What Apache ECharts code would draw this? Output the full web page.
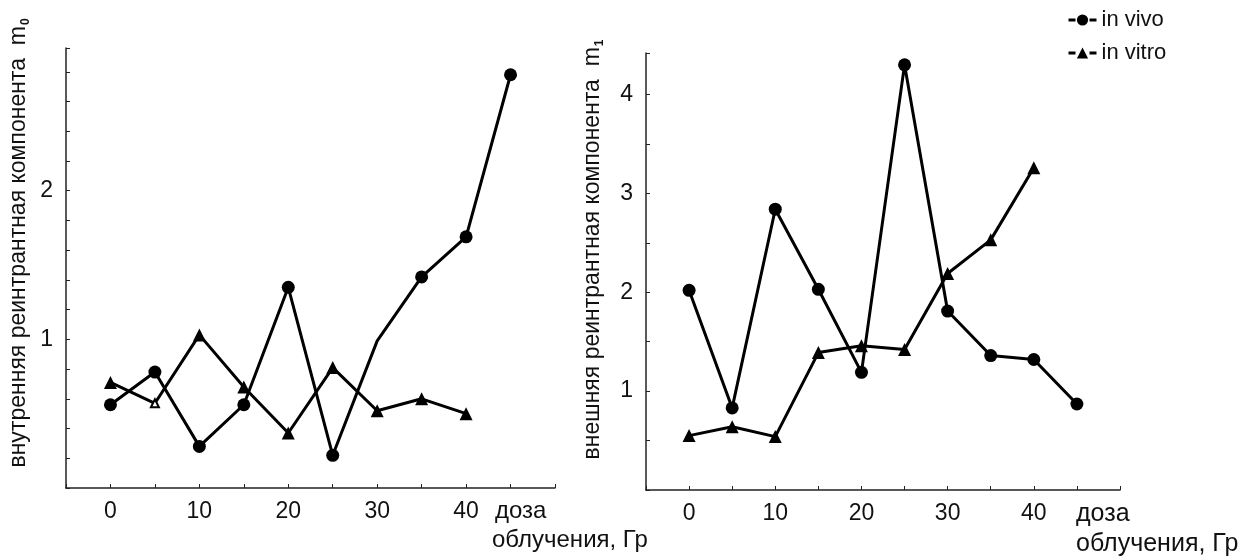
<!DOCTYPE html>
<html>
<head>
<meta charset="utf-8">
<script src="https://cdn.jsdelivr.net/npm/echarts@6/dist/echarts.min.js"></script>
<style>
html,body{margin:0;padding:0;background:#fff;}
#c{width:1247px;height:560px;}
</style>
</head>
<body>
<div id="c"></div>
<script>
// ---- data ----
const doses = [0, 5, 10, 15, 20, 25, 30, 35, 40, 45];
const xTickLabels = [0, 10, 20, 30, 40];
const m0TickLabels = [1, 2];
const m1TickLabels = [1, 2, 3, 4];
const seriesNames = ['in vivo', 'in vitro'];
const m0InVivo  = [0.56, 0.78, 0.28, 0.56, 1.35, 0.22, 0.99, 1.42, 1.69, 2.78];
const m0InVitro = [0.71, 0.57, 1.03, 0.68, 0.37, 0.81, 0.52, 0.60, 0.50];
const m1InVivo  = [2.02, 0.83, 2.84, 2.03, 1.19, 4.30, 1.81, 1.36, 1.32, 0.87];
const m1InVitro = [0.55, 0.64, 0.54, 1.39, 1.46, 1.42, 2.19, 2.53, 3.26];
const yTitles = ['внутренняя реинтрантная компонента', 'внешняя реинтрантная компонента'];
const ySubs = ['0', '1'];
const xTitle = ['доза', 'облучения, Гр'];

const FONT = 'Liberation Sans, Arial, sans-serif';
const chart = echarts.init(document.getElementById('c'), null, {renderer: 'canvas'});

function pairs(vals, opts) {
  return vals.map((v, i) => {
    const p = {value: [doses[i], v]};
    if (opts && opts[i]) Object.assign(p, opts[i]);
    return p;
  });
}
function hasLabel(list, v) { return list.some(t => Math.abs(t - v) < 1e-6); }

function xAxis(gi) {
  return {
    type: 'value', gridIndex: gi, min: -5, max: 50, interval: 5,
    axisLine: {onZero: false, lineStyle: {color: '#222', width: 1.5}},
    axisTick: {inside: true, length: 4, lineStyle: {color: '#222', width: 1}},
    axisLabel: {color: '#111', fontSize: 23, fontFamily: FONT, margin: 12,
      formatter: v => hasLabel(xTickLabels, v) ? String(v) : ''},
    splitLine: {show: false}
  };
}
function yAxis(gi, max, interval, labels, title, sub, gap, shift) {
  return {
    type: 'value', gridIndex: gi, min: 0, max: max, interval: interval,
    axisLine: {show: true, onZero: false, lineStyle: {color: '#222', width: 1.5}},
    axisTick: {show: true, inside: true, length: 4, lineStyle: {color: '#222', width: 1}},
    axisLabel: {color: '#111', fontSize: 23, fontFamily: FONT, margin: 13,
      formatter: v => hasLabel(labels, v) ? String(v) : ''},
    splitLine: {show: false},
    name: title + '  {m|m}{s|' + sub + '}',
    nameLocation: 'middle', nameRotate: 90, nameGap: gap,
    nameTextStyle: {color: '#111', fontSize: 23, fontFamily: FONT, padding: [0, 0, 0, shift],
      rich: {
        m: {fontSize: 23, fontFamily: FONT, color: '#111'},
        s: {fontSize: 12, fontFamily: FONT, color: '#111', fontWeight: 'bold', verticalAlign: 'bottom', padding: [15, 0, 0, 1]}
      }}
  };
}
const lineSt = {color: '#000', width: 3};
function series(name, xi, data) {
  return {
    name: name, type: 'line', xAxisIndex: xi, yAxisIndex: xi, data: data,
    symbol: name === seriesNames[0] ? 'circle' : 'triangle',
    symbolSize: 13, lineStyle: lineSt, itemStyle: {color: '#000'},
    emphasis: {disabled: true}, animation: false, z: 3
  };
}

chart.setOption({
  backgroundColor: '#fff',
  animation: false,
  grid: [
    {left: 66, top: 48, width: 489, height: 440},
    {left: 646, top: 53, width: 474, height: 437}
  ],
  xAxis: [xAxis(0), xAxis(1)],
  yAxis: [
    yAxis(0, 2.96, 0.2, m0TickLabels, yTitles[0], ySubs[0], 34, 50),
    yAxis(1, 4.42, 0.5, m1TickLabels, yTitles[1], ySubs[1], 40, 44)
  ],
  legend: {
    data: seriesNames, orient: 'vertical', left: 1062, top: 4,
    itemWidth: 28, itemHeight: 14, itemGap: 11,
    textStyle: {fontSize: 22, fontFamily: FONT, color: '#111'},
    lineStyle: {type: [7, 14], width: 3, color: '#000'},
    itemStyle: {color: '#000'}
  },
  series: [
    series(seriesNames[0], 0, pairs(m0InVivo, {6: {symbol: 'none'}})),
    series(seriesNames[1], 0, pairs(m0InVitro, {1: {symbol: 'emptyTriangle', symbolSize: 8}})),
    series(seriesNames[0], 1, pairs(m1InVivo)),
    series(seriesNames[1], 1, pairs(m1InVitro))
  ],
  graphic: [
    {type: 'text', left: 495, top: 499, style: {text: xTitle[0], fontSize: 24, fontFamily: FONT, fill: '#111'}},
    {type: 'text', left: 492, top: 528, style: {text: xTitle[1], fontSize: 24, fontFamily: FONT, fill: '#111'}},
    {type: 'text', left: 1076, top: 502, style: {text: xTitle[0], fontSize: 25, fontFamily: FONT, fill: '#111'}},
    {type: 'text', left: 1076, top: 532, style: {text: xTitle[1], fontSize: 25, fontFamily: FONT, fill: '#111'}}
  ]
});
</script>
</body>
</html>
